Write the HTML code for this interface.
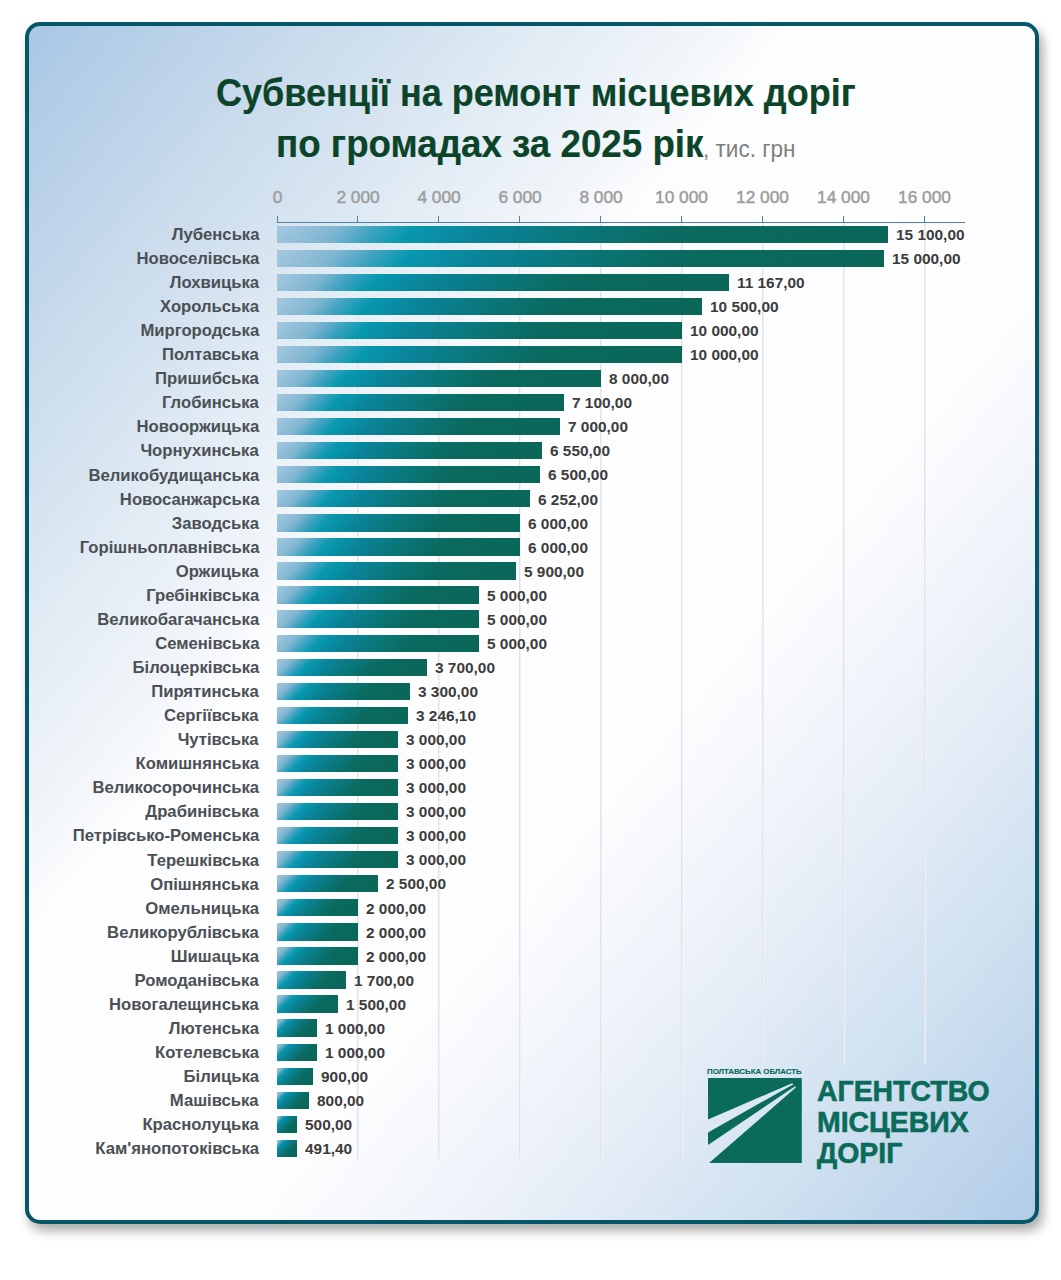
<!DOCTYPE html>
<html><head><meta charset="utf-8"><style>
html,body{margin:0;padding:0;background:#fff;width:1061px;height:1280px;overflow:hidden;}
body{position:relative;font-family:"Liberation Sans",sans-serif;}
.card{position:absolute;left:25px;top:22px;width:1014px;height:1202px;box-sizing:border-box;
 border:4px solid #06566a;border-radius:15px;
 background:linear-gradient(130deg,rgb(168,199,229) 0%,rgb(202,219,236) 14.6%,rgb(224,235,244) 25.4%,rgb(243,246,250) 34.4%,rgb(252,253,254) 38%,rgb(253,253,254) 61%,rgb(236,241,249) 72.5%,rgb(208,225,240) 86%,rgb(182,207,233) 98%,rgb(178,204,232) 100%);
 box-shadow:4px 7px 11px rgba(0,0,0,0.33);}
.title{position:absolute;color:#0c4429;font-weight:bold;white-space:nowrap;-webkit-text-stroke:0.2px #0c4429;}
.al{position:absolute;top:188px;width:120px;text-align:center;font-size:16px;color:#9d9d9d;line-height:20px;-webkit-text-stroke:0.45px #9d9d9d;}
.gl{position:absolute;top:223px;height:936px;width:2px;background:linear-gradient(to right,#e1e3e8 50%,#eef0f3 50%);}
.tk{position:absolute;top:216px;height:7px;width:1px;background:#52809f;}
.axis{position:absolute;left:276.5px;top:221.5px;width:688px;height:1px;background:#52809f;}
.bar{position:absolute;left:277.0px;height:17.3px;background:linear-gradient(135deg,#a6c8df 0%,#80b6d1 10%,#3fa3c0 16%,#0798b0 22%,#0a8398 34%,#0a7678 50%,#0a6a5f 65%,#0a6758 100%);}
.cat{position:absolute;right:802px;height:20px;line-height:20px;font-size:17px;font-weight:bold;color:#4b5055;white-space:nowrap;transform:scaleX(0.98);transform-origin:right center;}
.val{position:absolute;height:20px;line-height:20px;font-size:14px;font-weight:bold;color:#3c3c3c;white-space:nowrap;transform:scaleX(1.1);transform-origin:left center;}
.logo-t{position:absolute;color:#0b6b5a;font-weight:bold;white-space:nowrap;-webkit-text-stroke:0.6px #0b6b5a;}
</style></head>
<body>
<div class="card"></div>

<div class="title" style="left:216px;top:68px;font-size:39px;line-height:50px;transform:scaleX(0.923);transform-origin:left center;">Субвенції на ремонт місцевих доріг</div>
<div class="title" style="left:275.8px;top:119px;font-size:39px;line-height:50px;transform:scaleX(0.942);transform-origin:left center;">по громадах за 2025 рік</div>
<div class="title" style="left:703px;top:129px;font-size:23px;line-height:40px;font-weight:normal;color:#808080;-webkit-text-stroke:0;transform:scaleX(0.98);transform-origin:left center;">, тис. грн</div>

<div class="axis"></div>
<div class="tk" style="left:276.50px"></div>
<div class="al" style="left:217.00px"><span style="display:inline-block;transform:scaleX(1.08)">0</span></div>
<div class="gl" style="left:357.40px;height:936px"></div>
<div class="tk" style="left:357.40px"></div>
<div class="al" style="left:297.90px"><span style="display:inline-block;transform:scaleX(1.08)">2 000</span></div>
<div class="gl" style="left:438.30px;height:936px"></div>
<div class="tk" style="left:438.30px"></div>
<div class="al" style="left:378.80px"><span style="display:inline-block;transform:scaleX(1.08)">4 000</span></div>
<div class="gl" style="left:519.20px;height:936px"></div>
<div class="tk" style="left:519.20px"></div>
<div class="al" style="left:459.70px"><span style="display:inline-block;transform:scaleX(1.08)">6 000</span></div>
<div class="gl" style="left:600.10px;height:936px"></div>
<div class="tk" style="left:600.10px"></div>
<div class="al" style="left:540.60px"><span style="display:inline-block;transform:scaleX(1.08)">8 000</span></div>
<div class="gl" style="left:681.00px;height:936px"></div>
<div class="tk" style="left:681.00px"></div>
<div class="al" style="left:621.50px"><span style="display:inline-block;transform:scaleX(1.08)">10 000</span></div>
<div class="gl" style="left:761.90px;height:840px"></div>
<div class="tk" style="left:761.90px"></div>
<div class="al" style="left:702.40px"><span style="display:inline-block;transform:scaleX(1.08)">12 000</span></div>
<div class="gl" style="left:842.80px;height:840px"></div>
<div class="tk" style="left:842.80px"></div>
<div class="al" style="left:783.30px"><span style="display:inline-block;transform:scaleX(1.08)">14 000</span></div>
<div class="gl" style="left:923.70px;height:840px"></div>
<div class="tk" style="left:923.70px"></div>
<div class="al" style="left:864.20px"><span style="display:inline-block;transform:scaleX(1.08)">16 000</span></div>
<div class="bar" style="top:225.50px;width:610.79px"></div>
<div class="cat" style="top:224.95px">Лубенська</div>
<div class="val" style="top:224.85px;left:895.79px">15 100,00</div>
<div class="bar" style="top:249.56px;width:606.75px"></div>
<div class="cat" style="top:249.01px">Новоселівська</div>
<div class="val" style="top:248.91px;left:891.75px">15 000,00</div>
<div class="bar" style="top:273.62px;width:451.71px"></div>
<div class="cat" style="top:273.07px">Лохвицька</div>
<div class="val" style="top:272.97px;left:736.71px">11 167,00</div>
<div class="bar" style="top:297.68px;width:424.73px"></div>
<div class="cat" style="top:297.13px">Хорольська</div>
<div class="val" style="top:297.03px;left:709.73px">10 500,00</div>
<div class="bar" style="top:321.74px;width:404.50px"></div>
<div class="cat" style="top:321.19px">Миргородська</div>
<div class="val" style="top:321.09px;left:689.50px">10 000,00</div>
<div class="bar" style="top:345.80px;width:404.50px"></div>
<div class="cat" style="top:345.25px">Полтавська</div>
<div class="val" style="top:345.15px;left:689.50px">10 000,00</div>
<div class="bar" style="top:369.86px;width:323.60px"></div>
<div class="cat" style="top:369.31px">Пришибська</div>
<div class="val" style="top:369.21px;left:608.60px">8 000,00</div>
<div class="bar" style="top:393.92px;width:287.19px"></div>
<div class="cat" style="top:393.37px">Глобинська</div>
<div class="val" style="top:393.27px;left:572.19px">7 100,00</div>
<div class="bar" style="top:417.98px;width:283.15px"></div>
<div class="cat" style="top:417.43px">Новооржицька</div>
<div class="val" style="top:417.33px;left:568.15px">7 000,00</div>
<div class="bar" style="top:442.04px;width:264.95px"></div>
<div class="cat" style="top:441.49px">Чорнухинська</div>
<div class="val" style="top:441.39px;left:549.95px">6 550,00</div>
<div class="bar" style="top:466.10px;width:262.93px"></div>
<div class="cat" style="top:465.55px">Великобудищанська</div>
<div class="val" style="top:465.45px;left:547.92px">6 500,00</div>
<div class="bar" style="top:490.16px;width:252.89px"></div>
<div class="cat" style="top:489.61px">Новосанжарська</div>
<div class="val" style="top:489.51px;left:537.89px">6 252,00</div>
<div class="bar" style="top:514.22px;width:242.70px"></div>
<div class="cat" style="top:513.67px">Заводська</div>
<div class="val" style="top:513.57px;left:527.70px">6 000,00</div>
<div class="bar" style="top:538.28px;width:242.70px"></div>
<div class="cat" style="top:537.73px">Горішньоплавнівська</div>
<div class="val" style="top:537.63px;left:527.70px">6 000,00</div>
<div class="bar" style="top:562.34px;width:238.66px"></div>
<div class="cat" style="top:561.79px">Оржицька</div>
<div class="val" style="top:561.69px;left:523.65px">5 900,00</div>
<div class="bar" style="top:586.40px;width:202.25px"></div>
<div class="cat" style="top:585.85px">Гребінківська</div>
<div class="val" style="top:585.75px;left:487.25px">5 000,00</div>
<div class="bar" style="top:610.46px;width:202.25px"></div>
<div class="cat" style="top:609.91px">Великобагачанська</div>
<div class="val" style="top:609.81px;left:487.25px">5 000,00</div>
<div class="bar" style="top:634.52px;width:202.25px"></div>
<div class="cat" style="top:633.97px">Семенівська</div>
<div class="val" style="top:633.87px;left:487.25px">5 000,00</div>
<div class="bar" style="top:658.58px;width:149.66px"></div>
<div class="cat" style="top:658.03px">Білоцерківська</div>
<div class="val" style="top:657.93px;left:434.66px">3 700,00</div>
<div class="bar" style="top:682.64px;width:133.49px"></div>
<div class="cat" style="top:682.09px">Пирятинська</div>
<div class="val" style="top:681.99px;left:418.49px">3 300,00</div>
<div class="bar" style="top:706.70px;width:131.30px"></div>
<div class="cat" style="top:706.15px">Сергіївська</div>
<div class="val" style="top:706.05px;left:416.30px">3 246,10</div>
<div class="bar" style="top:730.76px;width:121.35px"></div>
<div class="cat" style="top:730.21px">Чутівська</div>
<div class="val" style="top:730.11px;left:406.35px">3 000,00</div>
<div class="bar" style="top:754.82px;width:121.35px"></div>
<div class="cat" style="top:754.27px">Комишнянська</div>
<div class="val" style="top:754.17px;left:406.35px">3 000,00</div>
<div class="bar" style="top:778.88px;width:121.35px"></div>
<div class="cat" style="top:778.33px">Великосорочинська</div>
<div class="val" style="top:778.23px;left:406.35px">3 000,00</div>
<div class="bar" style="top:802.94px;width:121.35px"></div>
<div class="cat" style="top:802.39px">Драбинівська</div>
<div class="val" style="top:802.29px;left:406.35px">3 000,00</div>
<div class="bar" style="top:827.00px;width:121.35px"></div>
<div class="cat" style="top:826.45px">Петрівсько-Роменська</div>
<div class="val" style="top:826.35px;left:406.35px">3 000,00</div>
<div class="bar" style="top:851.06px;width:121.35px"></div>
<div class="cat" style="top:850.51px">Терешківська</div>
<div class="val" style="top:850.41px;left:406.35px">3 000,00</div>
<div class="bar" style="top:875.12px;width:101.12px"></div>
<div class="cat" style="top:874.57px">Опішнянська</div>
<div class="val" style="top:874.47px;left:386.12px">2 500,00</div>
<div class="bar" style="top:899.18px;width:80.90px"></div>
<div class="cat" style="top:898.63px">Омельницька</div>
<div class="val" style="top:898.53px;left:365.90px">2 000,00</div>
<div class="bar" style="top:923.24px;width:80.90px"></div>
<div class="cat" style="top:922.69px">Великорублівська</div>
<div class="val" style="top:922.59px;left:365.90px">2 000,00</div>
<div class="bar" style="top:947.30px;width:80.90px"></div>
<div class="cat" style="top:946.75px">Шишацька</div>
<div class="val" style="top:946.65px;left:365.90px">2 000,00</div>
<div class="bar" style="top:971.36px;width:68.77px"></div>
<div class="cat" style="top:970.81px">Ромоданівська</div>
<div class="val" style="top:970.71px;left:353.76px">1 700,00</div>
<div class="bar" style="top:995.42px;width:60.67px"></div>
<div class="cat" style="top:994.87px">Новогалещинська</div>
<div class="val" style="top:994.77px;left:345.68px">1 500,00</div>
<div class="bar" style="top:1019.48px;width:40.45px"></div>
<div class="cat" style="top:1018.93px">Лютенська</div>
<div class="val" style="top:1018.83px;left:325.45px">1 000,00</div>
<div class="bar" style="top:1043.54px;width:40.45px"></div>
<div class="cat" style="top:1042.99px">Котелевська</div>
<div class="val" style="top:1042.89px;left:325.45px">1 000,00</div>
<div class="bar" style="top:1067.60px;width:36.41px"></div>
<div class="cat" style="top:1067.05px">Білицька</div>
<div class="val" style="top:1066.95px;left:321.40px">900,00</div>
<div class="bar" style="top:1091.66px;width:32.36px"></div>
<div class="cat" style="top:1091.11px">Машівська</div>
<div class="val" style="top:1091.01px;left:317.36px">800,00</div>
<div class="bar" style="top:1115.72px;width:20.23px"></div>
<div class="cat" style="top:1115.17px">Краснолуцька</div>
<div class="val" style="top:1115.07px;left:305.23px">500,00</div>
<div class="bar" style="top:1139.78px;width:19.88px"></div>
<div class="cat" style="top:1139.23px">Кам'янопотоківська</div>
<div class="val" style="top:1139.13px;left:304.88px">491,40</div>

<svg style="position:absolute;left:708.3px;top:1078.1px" width="93.8" height="85.1" viewBox="0 0 93.8 85.1" preserveAspectRatio="none">
<path fill="#0b6b5a" d="M0 0H93.8V85.1H0Z M0 41.5L84 5.2L85.5 6.2L0 54.4Z M0 66.9L87.1 8.3L87.8 9.5L1 85.1L0 85.1Z" fill-rule="evenodd"/>
</svg>
<div class="logo-t" style="left:707px;top:1067px;font-size:7px;line-height:10px;-webkit-text-stroke:0.15px #0b6b5a;transform:scaleX(1.12);transform-origin:left center;">ПОЛТАВСЬКА ОБЛАСТЬ</div>
<div class="logo-t" style="left:817px;top:1076.3px;font-size:29px;line-height:30.9px;transform:scaleX(0.98);transform-origin:left top;">АГЕНТСТВО<br>МІСЦЕВИХ<br>ДОРІГ</div>

</body></html>
